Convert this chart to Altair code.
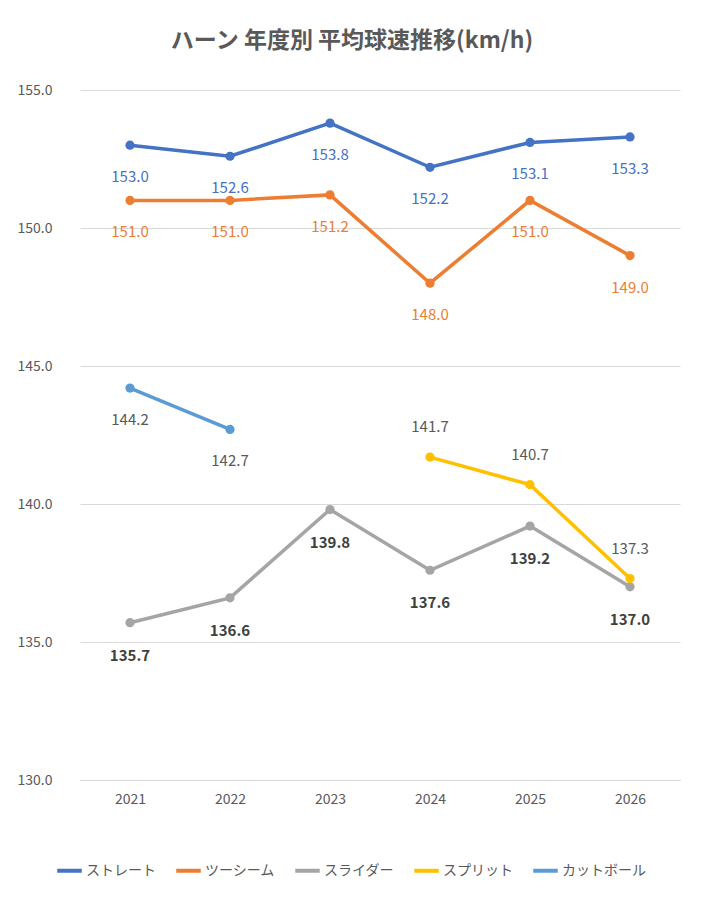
import altair as alt
import pandas as pd

years = ["2021", "2022", "2023", "2024", "2025", "2026"]
series = ["ストレート", "ツーシーム", "スライダー", "スプリット", "カットボール"]
straight = [153.0, 152.6, 153.8, 152.2, 153.1, 153.3]
twoseam = [151.0, 151.0, 151.2, 148.0, 151.0, 149.0]
slider = [135.7, 136.6, 139.8, 137.6, 139.2, 137.0]
split = [None, None, None, 141.7, 140.7, 137.3]
cut = [144.2, 142.7, None, None, None, None]
colors = ["#4472C4", "#ED7D31", "#A5A5A5", "#FFC000", "#5B9BD5"]
label_colors = ["#4472C4", "#ED7D31", "#404040", "#595959", "#595959"]
label_weight = ["normal", "normal", "bold", "normal", "normal"]
label_dy = [32, 32, 33, -30, 32]

rows = []
for s, vals in zip(series, [straight, twoseam, slider, split, cut]):
    for y, v in zip(years, vals):
        if v is not None:
            rows.append({"series": s, "year": y, "value": v})
df = pd.DataFrame(rows)

font = "Noto Sans CJK JP"
x = alt.X("year:N", sort=years, title=None,
          axis=alt.Axis(labelAngle=0, labelColor="#595959", labelFontSize=14, labelPadding=12,
                        domainColor="#D9D9D9", ticks=False, labelFont=font))
y = alt.Y("value:Q", scale=alt.Scale(domain=[130, 155]), title=None,
          axis=alt.Axis(values=[130, 135, 140, 145, 150, 155], format=".1f", labelColor="#595959",
                        labelFontSize=14, domain=False, ticks=False, gridColor="#D9D9D9",
                        labelPadding=28, labelFont=font))
color = alt.Color("series:N", sort=series, scale=alt.Scale(domain=series, range=colors),
                  legend=alt.Legend(title=None, orient="none", legendX=-25, legendY=766,
                                    direction="horizontal", labelFontSize=14, labelColor="#595959",
                                    labelFont=font, symbolType="stroke", symbolStrokeWidth=4,
                                    symbolSize=600, columnPadding=12, labelOffset=2))

base = alt.Chart(df)
layers = [
    base.mark_line(strokeWidth=3.5).encode(x=x, y=y, color=color),
    base.mark_point(filled=True, size=85, opacity=1).encode(x=x, y=y, color=alt.Color("series:N", sort=series, scale=alt.Scale(domain=series, range=colors), legend=None)),
]
for s, c, w, d in zip(series, label_colors, label_weight, label_dy):
    layers.append(
        base.transform_filter(alt.datum.series == s)
        .mark_text(color=c, fontWeight=w, fontSize=15, dy=d, font=font)
        .encode(x=x, y=y, text=alt.Text("value:Q", format=".1f"))
    )

chart = alt.layer(*layers).properties(
    width=600, height=690,
    autosize=alt.AutoSizeParams(type="none"),
    padding={"left": 72, "top": 82, "right": 17, "bottom": 115},
    title=alt.TitleParams("ハーン 年度別 平均球速推移(km/h)", font=font, fontSize=23,
                          color="#595959", fontWeight="bold", offset=30, dx=-28),
).configure_view(stroke=None)

chart.save("out.html", embed_options={"renderer": "svg", "actions": False})
